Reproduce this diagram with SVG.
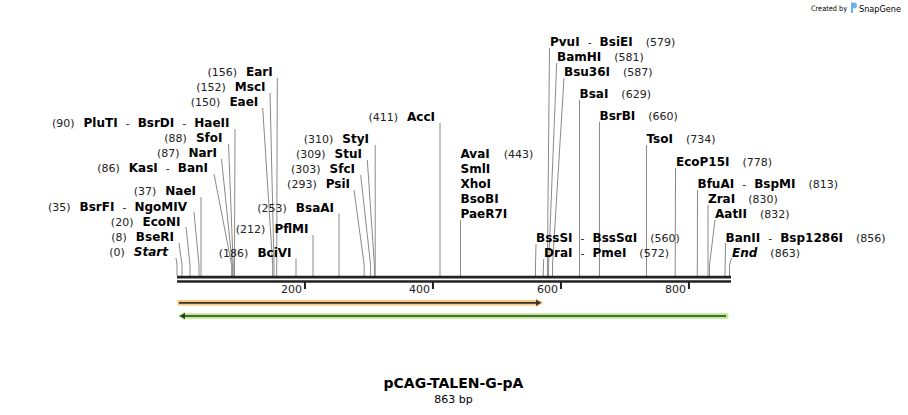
<svg xmlns="http://www.w3.org/2000/svg" width="908" height="415" viewBox="0 0 908 415">
<style>
text{font-family:"DejaVu Sans",Verdana,sans-serif;fill:#000}
.b{font-weight:bold;font-size:12px;fill:#000}
.i{font-weight:bold;font-style:italic;font-size:12px;fill:#000}
.n{font-size:11px;fill:#222}
.L{text-anchor:end}
.con polyline{fill:none;stroke:#8a8a8a;stroke-width:1}
.bb{stroke:#222;stroke-width:2.6}
.tick{stroke:#222;stroke-width:2}
.tl{font-size:11px;fill:#222;text-anchor:end}
</style>
<rect width="908" height="415" fill="#fff"/>

<!-- connectors -->
<g id="connectors" class="con">
<polyline points="176,258 177,265 177,276"/>
<polyline points="179,243 182,265 182,276"/>
<polyline points="186,227 190,265 190,276"/>
<polyline points="194,212 199,265 199,276"/>
<polyline points="201,197 201,265 201,276"/>
<polyline points="214,174 231.7,265 231.7,276"/>
<polyline points="221.5,159 232.4,265 232.4,276"/>
<polyline points="228.5,144 233.2,265 233.2,276"/>
<polyline points="235,129 234.5,265 234.5,276"/>
<polyline points="262.7,108 272.7,265 272.7,276"/>
<polyline points="270,93 274,265 274,276"/>
<polyline points="277.3,78 276.7,265 276.7,276"/>
<polyline points="296,258.5 296,276"/>
<polyline points="313,235 313,276"/>
<polyline points="339,213.5 339,276"/>
<polyline points="354,190 364.2,265 364.2,276"/>
<polyline points="360.7,175 370.6,265 370.6,276"/>
<polyline points="367.3,160 374.4,265 374.4,276"/>
<polyline points="375.2,145 375.2,276"/>
<polyline points="440,123 440,276"/>
<polyline points="460.5,220 460.5,276"/>
<polyline points="536,244 535.5,265 535.5,276"/>
<polyline points="543.7,259 543.2,276"/>
<polyline points="549.5,48 547.4,265 547.4,276"/>
<polyline points="556.7,63 548.6,265 548.6,276"/>
<polyline points="564,78 552.5,265 552.5,276"/>
<polyline points="579.5,100 579.5,276"/>
<polyline points="599.5,122 599.5,276"/>
<polyline points="646.5,145 646.5,276"/>
<polyline points="675.5,168 675.2,276"/>
<polyline points="697.5,190 697.3,276"/>
<polyline points="708,205 708,276"/>
<polyline points="715,220 709.5,265 709.5,276"/>
<polyline points="725.5,243 725,276"/>
<polyline points="731.7,258 729.5,265 729.5,276"/>
</g>

<!-- backbone -->
<g id="backbone">
<line class="bb" x1="177" y1="277.1" x2="731" y2="277.1"/>
<line class="bb" x1="177" y1="281.5" x2="731" y2="281.5"/>
<line class="tick" x1="305" y1="282" x2="305" y2="289"/>
<line class="tick" x1="433" y1="282" x2="433" y2="289"/>
<line class="tick" x1="561" y1="282" x2="561" y2="289"/>
<line class="tick" x1="689" y1="282" x2="689" y2="289"/>
<text class="tl" x="302" y="293">200</text>
<text class="tl" x="430" y="293">400</text>
<text class="tl" x="558" y="293">600</text>
<text class="tl" x="686" y="293">800</text>
</g>

<!-- features -->
<g id="feature-forward">
<polygon points="177.5,300 536,300 536,298.3 543.5,302.8 536,307.3 536,305.6 177.5,305.6" fill="#fbc77c"/>
<line x1="179" y1="302.8" x2="537" y2="302.8" stroke="#333" stroke-width="1.7"/>
<polygon points="536,299.8 541.5,302.8 536,305.8" fill="#333"/>
</g>
<g id="feature-reverse">
<polygon points="728.3,313.3 185,313.3 185,311.5 177.3,316 185,320.5 185,318.7 728.3,318.7" fill="#b6ef88"/>
<line x1="184" y1="316" x2="726" y2="316" stroke="#333" stroke-width="1.7"/>
<polygon points="185,313 179.5,316 185,319" fill="#333"/>
</g>

<!-- left labels -->
<g id="site-Start"><text class="L" x="168" y="256"><tspan class="n">(0)</tspan><tspan class="i" dx="9">Start</tspan></text></g>
<g id="site-BseRI"><text class="L" x="174" y="241"><tspan class="n">(8)</tspan><tspan class="b" dx="9">BseRI</tspan></text></g>
<g id="site-EcoNI"><text class="L" x="180.5" y="225.5"><tspan class="n">(20)</tspan><tspan class="b" dx="9">EcoNI</tspan></text></g>
<g id="site-NgoMIV"><text class="L" x="187" y="210.5"><tspan class="n">(35)</tspan><tspan class="b" dx="9">BsrFI</tspan><tspan class="n" dx="8">-</tspan><tspan class="b" dx="8">NgoMIV</tspan></text></g>
<g id="site-NaeI"><text class="L" x="196" y="195"><tspan class="n">(37)</tspan><tspan class="b" dx="9">NaeI</tspan></text></g>
<g id="site-BanI"><text class="L" x="208" y="172"><tspan class="n">(86)</tspan><tspan class="b" dx="9">KasI</tspan><tspan class="n" dx="8">-</tspan><tspan class="b" dx="8">BanI</tspan></text></g>
<g id="site-NarI"><text class="L" x="217" y="157"><tspan class="n">(87)</tspan><tspan class="b" dx="9">NarI</tspan></text></g>
<g id="site-SfoI"><text class="L" x="222.5" y="142"><tspan class="n">(88)</tspan><tspan class="b" dx="9">SfoI</tspan></text></g>
<g id="site-HaeII"><text class="L" x="229.5" y="127"><tspan class="n">(90)</tspan><tspan class="b" dx="9">PluTI</tspan><tspan class="n" dx="8">-</tspan><tspan class="b" dx="8">BsrDI</tspan><tspan class="n" dx="8">-</tspan><tspan class="b" dx="8">HaeII</tspan></text></g>
<g id="site-EaeI"><text class="L" x="258.3" y="106"><tspan class="n">(150)</tspan><tspan class="b" dx="9">EaeI</tspan></text></g>
<g id="site-MscI"><text class="L" x="265.5" y="91"><tspan class="n">(152)</tspan><tspan class="b" dx="9">MscI</tspan></text></g>
<g id="site-EarI"><text class="L" x="272.7" y="76"><tspan class="n">(156)</tspan><tspan class="b" dx="9">EarI</tspan></text></g>
<g id="site-BciVI"><text class="L" x="291.5" y="256.5"><tspan class="n">(186)</tspan><tspan class="b" dx="9">BciVI</tspan></text></g>
<g id="site-PflMI"><text class="L" x="308.5" y="233"><tspan class="n">(212)</tspan><tspan class="b" dx="9">PflMI</tspan></text></g>
<g id="site-BsaAI"><text class="L" x="334" y="211.5"><tspan class="n">(253)</tspan><tspan class="b" dx="9">BsaAI</tspan></text></g>
<g id="site-PsiI"><text class="L" x="350" y="188"><tspan class="n">(293)</tspan><tspan class="b" dx="9">PsiI</tspan></text></g>
<g id="site-SfcI"><text class="L" x="355" y="173"><tspan class="n">(303)</tspan><tspan class="b" dx="9">SfcI</tspan></text></g>
<g id="site-StuI"><text class="L" x="362" y="158"><tspan class="n">(309)</tspan><tspan class="b" dx="9">StuI</tspan></text></g>
<g id="site-StyI"><text class="L" x="369" y="143"><tspan class="n">(310)</tspan><tspan class="b" dx="9">StyI</tspan></text></g>
<g id="site-AccI"><text class="L" x="435" y="121"><tspan class="n">(411)</tspan><tspan class="b" dx="9">AccI</tspan></text></g>

<!-- right labels -->
<g id="site-AvaI">
<text x="460.5" y="158"><tspan class="b">AvaI</tspan><tspan class="n" dx="14">(443)</tspan></text>
<text class="b" x="460.5" y="173">SmlI</text>
<text class="b" x="460.5" y="188">XhoI</text>
<text class="b" x="460.5" y="203">BsoBI</text>
<text class="b" x="460.5" y="218">PaeR7I</text>
</g>
<g id="site-BssSI"><text x="536" y="241.5"><tspan class="b">BssSI</tspan><tspan class="n" dx="8">-</tspan><tspan class="b" dx="8">BssSαI</tspan><tspan class="n" dx="13">(560)</tspan></text></g>
<g id="site-DraI"><text x="544" y="256.5"><tspan class="b">DraI</tspan><tspan class="n" dx="8">-</tspan><tspan class="b" dx="8">PmeI</tspan><tspan class="n" dx="13">(572)</tspan></text></g>
<g id="site-PvuI"><text x="550" y="46"><tspan class="b">PvuI</tspan><tspan class="n" dx="8">-</tspan><tspan class="b" dx="8">BsiEI</tspan><tspan class="n" dx="13">(579)</tspan></text></g>
<g id="site-BamHI"><text x="557" y="61"><tspan class="b">BamHI</tspan><tspan class="n" dx="13">(581)</tspan></text></g>
<g id="site-Bsu36I"><text x="564" y="76"><tspan class="b">Bsu36I</tspan><tspan class="n" dx="13">(587)</tspan></text></g>
<g id="site-BsaI"><text x="579.5" y="98"><tspan class="b">BsaI</tspan><tspan class="n" dx="13">(629)</tspan></text></g>
<g id="site-BsrBI"><text x="599.5" y="120"><tspan class="b">BsrBI</tspan><tspan class="n" dx="13">(660)</tspan></text></g>
<g id="site-TsoI"><text x="646.5" y="143"><tspan class="b">TsoI</tspan><tspan class="n" dx="13">(734)</tspan></text></g>
<g id="site-EcoP15I"><text x="676" y="166"><tspan class="b">EcoP15I</tspan><tspan class="n" dx="13">(778)</tspan></text></g>
<g id="site-BfuAI"><text x="697.5" y="188"><tspan class="b">BfuAI</tspan><tspan class="n" dx="8">-</tspan><tspan class="b" dx="8">BspMI</tspan><tspan class="n" dx="13">(813)</tspan></text></g>
<g id="site-ZraI"><text x="708" y="203"><tspan class="b">ZraI</tspan><tspan class="n" dx="13">(830)</tspan></text></g>
<g id="site-AatII"><text x="715" y="218"><tspan class="b">AatII</tspan><tspan class="n" dx="13">(832)</tspan></text></g>
<g id="site-BanII"><text x="725.5" y="241.5"><tspan class="b">BanII</tspan><tspan class="n" dx="8">-</tspan><tspan class="b" dx="8">Bsp1286I</tspan><tspan class="n" dx="13">(856)</tspan></text></g>
<g id="site-End"><text x="732" y="256.5"><tspan class="i">End</tspan><tspan class="n" dx="13">(863)</tspan></text></g>

<!-- title -->
<g id="title">
<text x="453.5" y="388" text-anchor="middle" font-weight="bold" font-size="14">pCAG-TALEN-G-pA</text>
<text x="453.5" y="403" text-anchor="middle" font-size="11" fill="#222">863 bp</text>
</g>

<!-- watermark -->
<g id="watermark">
<text x="811" y="11" font-size="7.5" fill="#c0c0c0" textLength="36" lengthAdjust="spacingAndGlyphs">Created by</text>
<path d="M851,2.5 h3 a3,3 0 0 1 0,6 h-1 v4.5 h-2 z" fill="#6ab4e8"/>
<text x="859" y="12" font-size="9.5" fill="#a8a8a8" textLength="42" lengthAdjust="spacingAndGlyphs">SnapGene</text>
</g>
</svg>
